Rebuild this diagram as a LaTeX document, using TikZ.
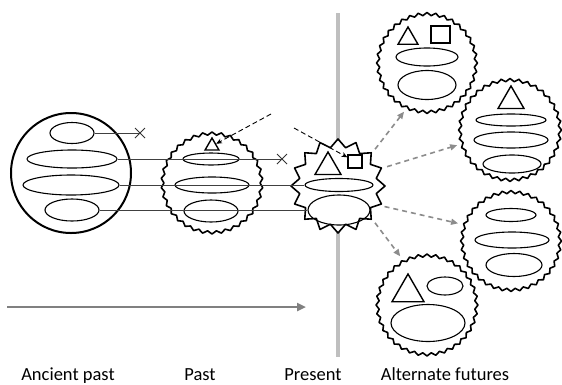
\documentclass[tikz,border=0pt]{standalone}
\usepackage{fontspec}
\setmainfont{Carlito}
\usetikzlibrary{shapes.geometric,shapes.misc,arrows.meta}

\begin{document}
\begin{tikzpicture}[x=1pt, y=-1pt,
   every node/.style={inner sep=0pt},
   ring/.style={draw, circle, line width=1.8pt, fill=white},
   jagged/.style={draw, star, star points=#1, star point height=3pt, line width=1.6pt,
       fill=white, line join=round},
   spiky/.style={draw, star, star points=16, star point height=8pt, line width=1.6pt,
       fill=white, line join=round},
   blob/.style={draw, ellipse, line width=1.1pt},
   tri/.style={draw, regular polygon, regular polygon sides=3, line width=1.4pt},
   sq/.style={draw, rectangle, line width=1.2pt},
   lost/.style={draw, cross out, minimum size=9pt, line width=1pt, black!80},
   link/.style={black!75, line width=1pt},
   clue/.style={line width=0.9pt, dash pattern=on 5pt off 3pt, -{Stealth[length=6pt,width=5pt]}},
   branch/.style={black!45, line width=1.6pt, dash pattern=on 5pt off 4pt,
       -{Triangle[length=7pt,width=6pt]}, shorten <=5pt, shorten >=5pt},
   era/.style={font=\fontsize{18.5}{22}\selectfont, anchor=base}]

\useasboundingbox (0,0) rectangle (562,384);

% time axis and the present
\coordinate (nowtop) at (338,13);
\coordinate (nowbot) at (338,357);
\draw[black!25, line width=4pt] (nowtop) -- (nowbot);
\coordinate (t0) at (7,307);
\coordinate (t1) at (306,307);
\draw[black!50, line width=2.5pt, -{Triangle[length=9pt,width=8pt]}] (t0) -- (t1);

% ancient past
\node[ring, line width=2pt, minimum size=120pt] (ancient) at (71,173) {};
\node[blob, minimum width=44pt, minimum height=21pt] (a1) at (72,133) {};
\node[blob, minimum width=90pt, minimum height=18pt] (a2) at (72,159) {};
\node[blob, minimum width=96pt, minimum height=20pt] (a3) at (71,185) {};
\node[blob, minimum width=54pt, minimum height=22pt] (a4) at (72,210) {};

% past
\node[jagged=34, minimum size=102pt] (past) at (212,183) {};
\node[tri, minimum size=16pt] (pt) at (212,146) {};
\node[blob, minimum width=56pt, minimum height=12pt] (p1) at (211,159) {};
\node[blob, minimum width=74pt, minimum height=16pt] (p2) at (212,185) {};
\node[blob, minimum width=54pt, minimum height=22pt] (p3) at (211,211) {};

% present
\node[spiky, minimum size=94pt] (now) at (338,186) {};
\node[tri, minimum size=30pt] (nt) at (328,167) {};
\node[sq, minimum width=14pt, minimum height=13pt] (ns) at (355,161.5) {};
\node[blob, minimum width=68pt, minimum height=13pt] (n1) at (339,185) {};
\node[blob, minimum width=62pt, minimum height=30pt] (n2) at (339,210) {};

% alternate futures
\node[jagged=36, minimum size=101pt] (f1) at (427,63) {};
\node[tri, minimum size=23pt] (f1t) at (408,38.5) {};
\node[sq, minimum width=19pt, minimum height=17pt] (f1s) at (440.5,34.5) {};
\node[blob, minimum width=62pt, minimum height=18pt] (f1a) at (427,57) {};
\node[blob, minimum width=58pt, minimum height=29pt] (f1b) at (427,85) {};

\node[jagged=36, minimum size=103pt] (f2) at (510,130) {};
\node[tri, minimum size=30pt] (f2t) at (511,101) {};
\node[blob, minimum width=70pt, minimum height=12pt] (f2a) at (511,120) {};
\node[blob, minimum width=74pt, minimum height=16pt] (f2b) at (511,140) {};
\node[blob, minimum width=58pt, minimum height=18pt] (f2c) at (512,164) {};

\node[jagged=36, minimum size=101pt] (f3) at (511,241) {};
\node[blob, minimum width=50pt, minimum height=13pt] (f3a) at (511,215) {};
\node[blob, minimum width=74pt, minimum height=16pt] (f3b) at (512,240) {};
\node[blob, minimum width=56pt, minimum height=23pt] (f3c) at (514,265) {};

\node[jagged=36, minimum size=102pt] (f4) at (427,305) {};
\node[tri, minimum size=37pt] (f4t) at (408,292.5) {};
\node[blob, minimum width=36pt, minimum height=18pt] (f4a) at (445,286) {};
\node[blob, minimum width=74pt, minimum height=37pt] (f4b) at (428,323) {};

% lines of descent
\node[lost] (x1) at (140,133) {};
\node[lost] (x2) at (282,159) {};
\draw[link] (a1.east) -- (x1.center);
\draw[link] (a2.east) -- (x2.center);
\draw[link] (a3.east) -- (n1.west);
\draw[link] (a4.east) -- (n2.west);

\coordinate (hint1) at (271,114);
\coordinate (hint2) at (294,128);
\draw[clue] (hint1) -- (pt);
\draw[clue] (hint2) -- (ns);

\draw[branch] (now.44) -- (f1.246);
\draw[branch] (now.22) -- (f2.196);
\draw[branch] (now.-25) -- (f3.161);
\draw[branch] (now.-44) -- (f4.118);

\node[era] (l1) at (68,380) {Ancient past};
\node[era] (l2) at (200,380) {Past};
\node[era] (l3) at (313,380) {Present};
\node[era] (l4) at (445,380) {Alternate futures};

\end{tikzpicture}
\end{document}
